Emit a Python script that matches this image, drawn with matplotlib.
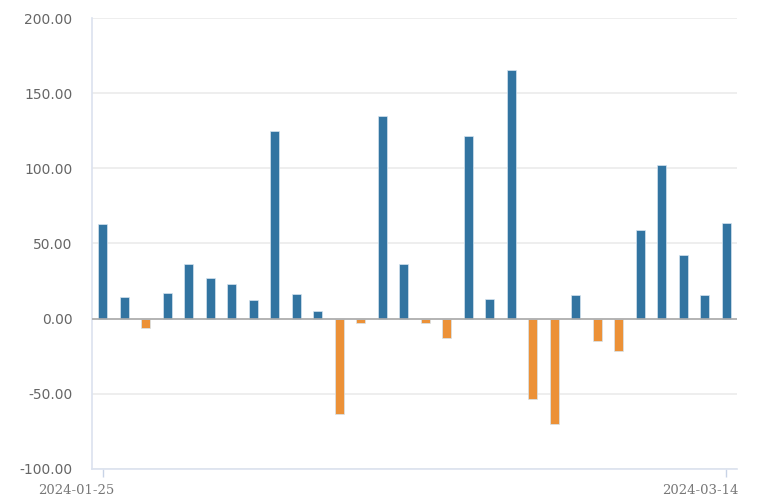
import numpy as np
import pandas as pd
import matplotlib
matplotlib.use("Agg")
import matplotlib.pyplot as plt
from matplotlib.transforms import ScaledTranslation

dates = ["2024-01-25", "2024-01-26", "2024-01-29", "2024-01-30", "2024-01-31",
         "2024-02-01", "2024-02-02", "2024-02-05", "2024-02-06", "2024-02-07",
         "2024-02-08", "2024-02-19", "2024-02-20", "2024-02-21", "2024-02-22",
         "2024-02-23", "2024-02-26", "2024-02-27", "2024-02-28", "2024-02-29",
         "2024-03-01", "2024-03-04", "2024-03-05", "2024-03-06", "2024-03-07",
         "2024-03-08", "2024-03-11", "2024-03-12", "2024-03-13", "2024-03-14"]
values = [62.8, 14.7, -6.2, 17.2, 36.6, 27.3, 23.1, 12.3, 124.9, 16.3,
          5.3, -63.2, -2.9, 134.8, 36.6, -2.9, -13.0, 121.5, 13.0, 165.1,
          -53.3, -69.8, 15.7, -14.7, -21.4, 59.3, 102.2, 42.3, 15.7, 63.4]
yticks = [-100, -50, 0, 50, 100, 150, 200]

df = pd.DataFrame({"date": dates, "value": values})
x = np.arange(len(df))
colors = ["#3274a1" if v >= 0 else "#ec9137" for v in df["value"]]

fig = plt.figure(figsize=(7.59, 5.01), dpi=100)
ax = fig.add_axes([92 / 759, 32 / 501, 645 / 759, 451 / 501])

ax.bar(x, df["value"], width=0.42, color=colors, edgecolor="#d5e4f0",
       linewidth=0.5, zorder=3)
ax.axhline(0, color="#aaaaaa", linewidth=1.2, zorder=4)

ax.set_xlim(-0.5, len(df) - 0.5)
ax.set_ylim(-100, 200)
ax.set_yticks(yticks)
ax.set_yticklabels([f"{t:.2f}" for t in yticks])
ax.yaxis.grid(True, color="#ebebeb", linewidth=1.2, zorder=0)
ax.tick_params(axis="y", length=0, pad=14, labelsize=10, labelcolor="#666666")

ax.set_xticks([0, len(df) - 1])
ax.set_xticklabels([dates[0], dates[-1]], family="DejaVu Serif")
ax.tick_params(axis="x", length=6, color="#c8d3e6", width=1, labelsize=9.5,
               labelcolor="#777777", pad=5)
# labels sit right-aligned just past their tick, as in the original
shift = ScaledTranslation(12 / 100, 0, fig.dpi_scale_trans)
for lab in ax.get_xticklabels():
    lab.set_horizontalalignment("right")
    lab.set_transform(lab.get_transform() + shift)

for s in ["top", "right"]:
    ax.spines[s].set_visible(False)
for s in ["left", "bottom"]:
    ax.spines[s].set_color("#dbe2ef")
    ax.spines[s].set_linewidth(1.2)

fig.savefig("out.png", dpi=100)
